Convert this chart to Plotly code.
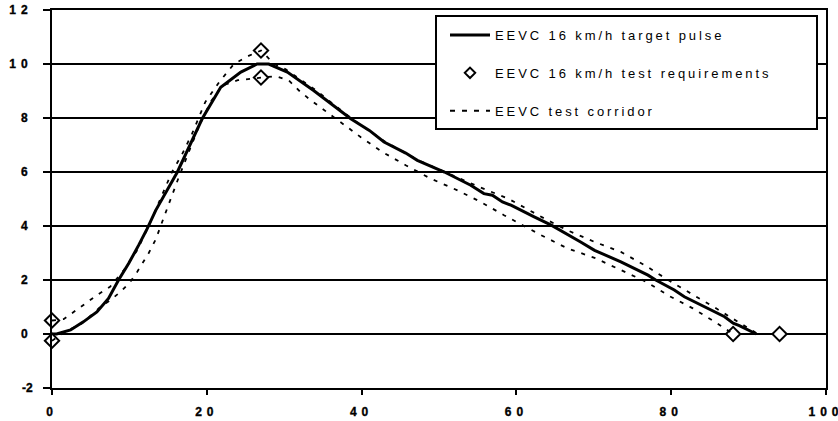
import plotly.graph_objects as go

# Target pulse (solid)
pulse_t = [0, 0.6, 2.4, 4.05, 5.8, 7.3, 8.6, 9.9, 11.2, 12.3, 13.4, 16.2, 19.4, 21.8, 24.4, 26.5, 28,
           29.5, 30.4, 33.8, 36, 38.6, 41, 42.9, 45.7, 47.2, 50.7, 54.1, 55.8, 56.9, 58.2, 59.3,
           62.3, 64.5, 68.3, 70.1, 73.5, 77, 78, 80.4, 81.7, 83.9, 86.9, 88, 88.8, 91]
pulse_g = [0, 0, 0.15, 0.45, 0.82, 1.32, 2.0, 2.61, 3.29, 3.9, 4.58, 6.0, 7.97, 9.14, 9.7, 10.0, 10.0,
           9.82, 9.7, 9.02, 8.53, 7.97, 7.54, 7.11, 6.70, 6.43, 6.0, 5.51, 5.2, 5.14, 4.89, 4.77,
           4.34, 4.03, 3.41, 3.1, 2.67, 2.18, 2.0, 1.63, 1.38, 1.07, 0.64, 0.4, 0.31, 0]

# Test requirements (diamonds)
req_t = [0, 0, 27, 27, 88, 94]
req_g = [0.5, -0.25, 10.5, 9.5, 0, 0]

# Corridor upper
up_t = [0, 1.5, 3.7, 5.8, 7.5, 9.3, 11, 12.5, 14, 15.5, 16.8, 18.1, 19.8, 21.6, 23.5, 25.4, 27,
        28.7, 30.2, 34, 38.6, 42.9, 47.2, 50.7, 55.4, 58.9, 63.6, 66.6, 70.1, 73.5, 76.8, 79.6,
        82.6, 85.8, 88.8, 91.2]
up_g = [0.5, 0.55, 1.0, 1.44, 1.75, 2.37, 3.1, 4.0, 5.0, 6.0, 6.65, 7.42, 8.59, 9.33, 10.0, 10.3, 10.5,
        10.0, 9.8, 9.05, 8.0, 7.15, 6.45, 6.0, 5.42, 5.02, 4.28, 3.84, 3.41, 3.04, 2.51, 2.0,
        1.5, 0.95, 0.42, 0]

# Corridor lower
lo_t = [0, 1.5, 3.9, 6.25, 7.75, 9, 10.1, 11, 12.5, 13.4, 14.4, 15.3, 16.4, 17.5, 19, 20.5, 22, 24,
        27, 28.9, 30.6, 31.9, 33.2, 35.8, 38.4, 39.9, 42.7, 45.7, 48.9, 52.4, 55.4, 58.4, 63.2,
        66.6, 70.1, 73.3, 76.8, 79.8, 82.8, 85.8, 88]
lo_g = [-0.25, 0.05, 0.4, 1.0, 1.3, 1.6, 1.93, 2.3, 3.0, 3.5, 4.28, 5.0, 5.82, 6.62, 7.7, 8.6, 9.2, 9.4,
        9.5, 9.55, 9.39, 9.02, 8.71, 8.16, 7.6, 7.29, 6.74, 6.25, 5.76, 5.32, 4.89, 4.4, 3.66,
        3.17, 2.82, 2.39, 1.93, 1.4, 0.95, 0.42, 0]

x_ticks = [0, 20, 40, 60, 80, 100]
x_labels = ["0", "20", "40", "60", "80", "100"]
y_ticks = [-2, 0, 2, 4, 6, 8, 10, 12]
y_labels = ["-2", "0", "2", "4", "6", "8", "10", "12"]

names = ["EEVC 16 km/h target pulse", "EEVC 16 km/h test requirements", "EEVC test corridor"]

FONT = "Liberation Sans, Arial, sans-serif"
DASH = "4px,7px"

def spaced(s, px):
    return '<span style="letter-spacing:%spx">%s</span>' % (px, s)

def tick(s, px):
    sp = px if s.isdigit() else 0
    return ('<span style="letter-spacing:%spx;font-weight:bold;stroke:black;'
            'stroke-width:0.35px">%s</span>' % (sp, s))

fig = go.Figure()
fig.add_trace(go.Scatter(x=pulse_t, y=pulse_g, mode="lines", name=spaced(names[0], 2.9),
                         line=dict(color="black", width=3), legendgroup="a", legendrank=1))
fig.add_trace(go.Scatter(x=req_t, y=req_g, mode="markers", showlegend=False,
                         marker=dict(symbol="diamond", size=11, color="white",
                                     line=dict(color="black", width=2)),
                         cliponaxis=False, legendgroup="b"))
# legend-only proxy with smaller diamond, as in the reference legend
fig.add_trace(go.Scatter(x=[None], y=[None], mode="markers", name=spaced(names[1], 2.9),
                         marker=dict(symbol="diamond", size=8, color="white",
                                     line=dict(color="black", width=2)),
                         legendgroup="b", legendrank=2))
fig.add_trace(go.Scatter(x=up_t, y=up_g, mode="lines", showlegend=False,
                         line=dict(color="black", width=1.8, dash=DASH), legendgroup="c"))
fig.add_trace(go.Scatter(x=lo_t, y=lo_g, mode="lines", showlegend=False,
                         line=dict(color="black", width=1.8, dash=DASH), legendgroup="c"))
fig.add_trace(go.Scatter(x=[None], y=[None], mode="lines", name=spaced(names[2], 2.9),
                         line=dict(color="black", width=2, dash="5px,7px"),
                         legendgroup="c", legendrank=3))

fig.add_shape(type="rect", xref="paper", yref="paper", x0=(436 - 52) / 774, x1=(817 - 52) / 774,
              y0=(388 - 129) / 378, y1=(388 - 16) / 378, line=dict(color="black", width=2),
              fillcolor="white", layer="above")

fig.update_layout(
    width=838, height=421,
    margin=dict(l=52, r=12, t=10, b=33, autoexpand=False),
    plot_bgcolor="white", paper_bgcolor="white",
    font=dict(family=FONT, color="black"),
    showlegend=True,
    legend=dict(x=(445 - 52) / 774, y=(388 - 20) / 378, xanchor="left", yanchor="top",
                bgcolor="rgba(0,0,0,0)", borderwidth=0, font=dict(size=13, family=FONT),
                tracegroupgap=18, itemwidth=40),
    xaxis=dict(range=[0, 100], tickvals=x_ticks, ticktext=[tick(t, 5) for t in x_labels],
               showgrid=False, zeroline=False, showline=True, linecolor="black", linewidth=2,
               mirror=True, ticks="outside", ticklen=5, tickwidth=2, tickcolor="black",
               automargin=False, ticklabeloverflow="allow",
               tickfont=dict(size=12, family=FONT, weight="bold"), ticklabelstandoff=7),
    yaxis=dict(range=[-2, 12], tickvals=y_ticks, ticktext=[tick(t, 5) for t in y_labels],
               showgrid=True, gridcolor="black", gridwidth=2, zeroline=False,
               showline=True, linecolor="black", linewidth=2, mirror=True,
               ticks="outside", ticklen=7, tickwidth=2, tickcolor="black",
               automargin=False, ticklabeloverflow="allow",
               tickfont=dict(size=12, family=FONT, weight="bold"), ticklabelstandoff=8),
)

fig.write_html("out.html", config={"displayModeBar": False},
               post_script="document.body.style.margin='0';")
